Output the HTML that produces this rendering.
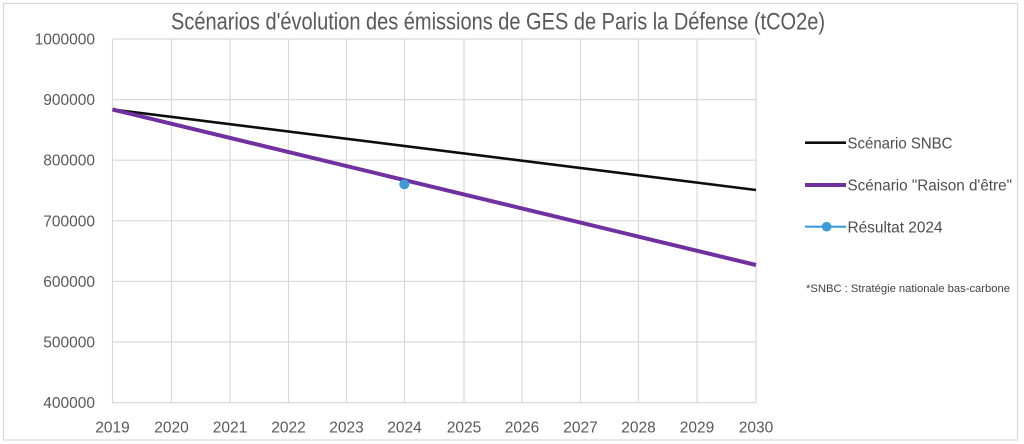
<!DOCTYPE html>
<html>
<head>
<meta charset="utf-8">
<style>
html,body{margin:0;padding:0;background:#fff;}
svg{display:block;}
text{font-family:"Liberation Sans",sans-serif;}
</style>
</head>
<body>
<svg width="1024" height="444" viewBox="0 0 1024 444" xmlns="http://www.w3.org/2000/svg">
<rect x="0" y="0" width="1024" height="444" fill="#fff"/>
<rect x="3.5" y="3.5" width="1014" height="436.5" fill="#fff" stroke="#d9d9d9" stroke-width="1.2"/>

<!-- title -->
<text x="171" y="29.3" font-size="24" fill="#595959" textLength="654" lengthAdjust="spacingAndGlyphs">Scénarios d'évolution des émissions de GES de Paris la Défense (tCO2e)</text>

<!-- gridlines horizontal -->
<g stroke="#d9d9d9" stroke-width="1.2">
<line x1="112" y1="39" x2="756" y2="39"/>
<line x1="112" y1="99.6" x2="756" y2="99.6"/>
<line x1="112" y1="160.2" x2="756" y2="160.2"/>
<line x1="112" y1="220.8" x2="756" y2="220.8"/>
<line x1="112" y1="281.4" x2="756" y2="281.4"/>
<line x1="112" y1="342" x2="756" y2="342"/>
<line x1="112" y1="402.6" x2="756" y2="402.6"/>
<!-- vertical -->
<line x1="112.5" y1="39" x2="112.5" y2="402.6"/>
<line x1="171.5" y1="39" x2="171.5" y2="402.6"/>
<line x1="230" y1="39" x2="230" y2="402.6"/>
<line x1="288.5" y1="39" x2="288.5" y2="402.6"/>
<line x1="346.5" y1="39" x2="346.5" y2="402.6"/>
<line x1="404.5" y1="39" x2="404.5" y2="402.6"/>
<line x1="464" y1="39" x2="464" y2="402.6"/>
<line x1="522" y1="39" x2="522" y2="402.6"/>
<line x1="580.5" y1="39" x2="580.5" y2="402.6"/>
<line x1="638.5" y1="39" x2="638.5" y2="402.6"/>
<line x1="697" y1="39" x2="697" y2="402.6"/>
<line x1="756" y1="39" x2="756" y2="402.6"/>
</g>

<!-- y labels -->
<g font-size="15.5" fill="#595959" text-anchor="end">
<text x="95" y="44.5">1000000</text>
<text x="95" y="105.1">900000</text>
<text x="95" y="165.7">800000</text>
<text x="95" y="226.3">700000</text>
<text x="95" y="286.9">600000</text>
<text x="95" y="347.5">500000</text>
<text x="95" y="408.1">400000</text>
</g>

<!-- x labels -->
<g font-size="15.5" fill="#595959" text-anchor="middle">
<text x="112.5" y="432.5">2019</text>
<text x="171.5" y="432.5">2020</text>
<text x="230" y="432.5">2021</text>
<text x="288.5" y="432.5">2022</text>
<text x="346.5" y="432.5">2023</text>
<text x="404.5" y="432.5">2024</text>
<text x="464" y="432.5">2025</text>
<text x="522" y="432.5">2026</text>
<text x="580.5" y="432.5">2027</text>
<text x="638.5" y="432.5">2028</text>
<text x="697" y="432.5">2029</text>
<text x="756" y="432.5">2030</text>
</g>

<!-- series -->
<line x1="112.5" y1="109.5" x2="756" y2="190" stroke="#0d0d0d" stroke-width="2.6" stroke-linecap="butt"/>
<line x1="112.5" y1="109.5" x2="756" y2="265" stroke="#7030a0" stroke-width="4" stroke-linecap="butt"/>
<circle cx="404.3" cy="184.3" r="5" fill="#3d9bd8"/>

<!-- legend -->
<line x1="805" y1="142.7" x2="846" y2="142.7" stroke="#0d0d0d" stroke-width="2.6"/>
<text x="847.5" y="148.3" font-size="16" fill="#4d4d4d" textLength="105" lengthAdjust="spacingAndGlyphs">Scénario SNBC</text>

<line x1="805" y1="185" x2="846" y2="185" stroke="#7030a0" stroke-width="4"/>
<text x="847.5" y="190.6" font-size="16" fill="#4d4d4d" textLength="164.5" lengthAdjust="spacingAndGlyphs">Scénario "Raison d'être"</text>

<line x1="805" y1="226.7" x2="846" y2="226.7" stroke="#3d9bd8" stroke-width="2.2"/>
<circle cx="826.7" cy="226.7" r="4.8" fill="#3d9bd8"/>
<text x="847.5" y="232.3" font-size="16" fill="#4d4d4d" textLength="95" lengthAdjust="spacingAndGlyphs">Résultat 2024</text>

<text x="806" y="292.2" font-size="11" fill="#404040" textLength="204" lengthAdjust="spacingAndGlyphs">*SNBC : Stratégie nationale bas-carbone</text>
</svg>
</body>
</html>
